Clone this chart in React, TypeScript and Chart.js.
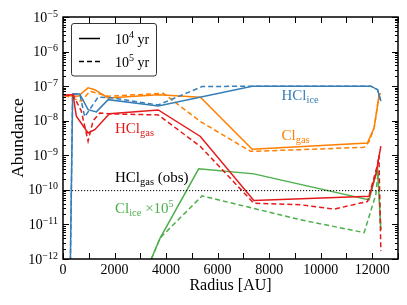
import React, { useEffect, useRef } from "react";
import { Chart, registerables } from "chart.js";
Chart.register(...registerables);

// ---- data (radius in AU, abundance) ----
const X_TICKS = [0, 2000, 4000, 6000, 8000, 10000, 12000];
const Y_EXPONENTS = [-12, -11, -10, -9, -8, -7, -6, -5];

const R_HCL_ICE_4 = [270, 374, 650, 973, 1296, 1751, 3696, 7342, 11946, 12206, 12335];
const V_HCL_ICE_4 = [1e-13, 5.95e-8, 5.95e-8, 2.09e-8, 1.8e-8, 4.07e-8, 2.68e-8, 1.0e-7, 1.0e-7, 7.9e-8, 3.7e-8];

const R_HCL_ICE_5 = [270, 374, 650, 844, 1362, 1868, 3696, 5397, 7342, 11946, 12206, 12335];
const V_HCL_ICE_5 = [1e-13, 5.95e-8, 5.9e-8, 1.3e-8, 4.8e-8, 4.6e-8, 2.86e-8, 9.7e-8, 1.0e-7, 1.0e-7, 7.9e-8, 3.7e-8];

const R_CL_GAS_4 = [50, 584, 973, 1233, 1751, 3696, 5331, 7342, 11817, 12074, 12268, 12335];
const V_CL_GAS_4 = [5.4e-8, 5.1e-8, 8.9e-8, 7.9e-8, 4.55e-8, 5.6e-8, 4.8e-8, 1.5e-9, 2.28e-9, 6.2e-9, 5.7e-8, 6.2e-8];

const R_CL_GAS_5 = [50, 712, 1039, 1751, 3891, 5331, 7276, 9222, 11685, 11880, 12074, 12268, 12335];
const V_CL_GAS_5 = [5.4e-8, 3.66e-8, 7.1e-8, 5.1e-8, 6.2e-8, 9.5e-9, 1.3e-9, 1.45e-9, 1.71e-9, 2.49e-9, 6.2e-9, 5.7e-8, 6.2e-8];

const R_HCL_GAS_4 = [50, 389, 518, 973, 1233, 1800, 3696, 5331, 7405, 11880, 12140, 12335];
const V_HCL_GAS_4 = [5.4e-8, 5.7e-8, 1.35e-8, 4.4e-9, 5.5e-9, 1.6e-8, 2.05e-8, 3.5e-9, 4.9e-11, 6.5e-11, 2.77e-10, 1.83e-9];

const R_HCL_GAS_5 = [50, 389, 712, 973, 1167, 1428, 1868, 3696, 5331, 7405, 9222, 10517, 11817, 12206, 12260, 12335];
const V_HCL_GAS_5 = [5.4e-8, 5.7e-8, 1.88e-8, 2.56e-9, 9.9e-9, 1.68e-8, 1.57e-8, 1.47e-8, 1.8e-9, 4.1e-11, 3.7e-11, 2.77e-11, 4.6e-11, 5.4e-10, 1.0e-9, 1.69e-12];

const R_CL_ICE_4 = [3300, 3774, 5265, 7405, 11880, 12206, 12335];
const V_CL_ICE_4 = [6e-13, 4.1e-12, 4.05e-10, 2.9e-10, 5.1e-11, 4.3e-10, 6.9e-12];

const R_CL_ICE_5 = [3300, 3774, 5397, 9222, 11685, 12140, 12229, 12335];
const V_CL_ICE_5 = [6e-13, 4.1e-12, 6.7e-11, 1.36e-11, 5.8e-12, 7.3e-11, 3.47e-10, 6.9e-12];

const R_OBS = [0, 13000];
const V_OBS = [9.5e-11, 9.5e-11];

const BLUE = "#377eb8";
const ORANGE = "#ff7f00";
const RED = "#e41a1c";
const GREEN = "#4daf4a";
const FONT = '"Liberation Serif", "DejaVu Serif", serif';

type Part = [string, number, number];

function drawRich(ctx: CanvasRenderingContext2D, x: number, y: number, parts: Part[], color: string, align: string = "left") {
  ctx.save();
  ctx.fillStyle = color;
  ctx.textBaseline = "alphabetic";
  ctx.textAlign = "left";
  let total = 0;
  const widths: number[] = [];
  for (const [t, s] of parts) {
    ctx.font = `${s}px ${FONT}`;
    const w = ctx.measureText(t).width;
    widths.push(w);
    total += w;
  }
  let cx = align === "right" ? x - total : align === "center" ? x - total / 2 : x;
  parts.forEach(([t, s, dy], i) => {
    ctx.font = `${s}px ${FONT}`;
    ctx.fillText(t, cx, y + dy);
    cx += widths[i];
  });
  ctx.restore();
}

const decor = {
  id: "decor",
  afterDatasetsDraw(chart: any) {
    const { ctx, chartArea: a, scales } = chart;
    const xs = scales.x;
    const ys = scales.y;
    ctx.save();
    ctx.strokeStyle = "#000";
    ctx.lineWidth = 1;
    ctx.beginPath();
    for (let r = 0; r <= 13000; r += 1000) {
      const px = Math.round(xs.getPixelForValue(r)) + 0.5;
      ctx.moveTo(px, a.bottom);
      ctx.lineTo(px, a.bottom - 6);
      ctx.moveTo(px, a.top);
      ctx.lineTo(px, a.top + 6);
    }
    for (let i = 0; i < Y_EXPONENTS.length; i++) {
      const e = Y_EXPONENTS[i];
      const py = Math.round(ys.getPixelForValue(Math.pow(10, e))) + 0.5;
      ctx.moveTo(a.left, py);
      ctx.lineTo(a.left + 6, py);
      ctx.moveTo(a.right, py);
      ctx.lineTo(a.right - 6, py);
      if (e < -5) {
        for (let m = 2; m <= 9; m++) {
          const pm = Math.round(ys.getPixelForValue(m * Math.pow(10, e))) + 0.5;
          ctx.moveTo(a.left, pm);
          ctx.lineTo(a.left + 3, pm);
          ctx.moveTo(a.right, pm);
          ctx.lineTo(a.right - 3, pm);
        }
      }
    }
    ctx.stroke();
    ctx.lineWidth = 1.5;
    ctx.strokeRect(a.left, a.top, a.right - a.left, a.bottom - a.top);
    ctx.restore();

    // tick labels
    for (const t of X_TICKS) {
      const px = xs.getPixelForValue(t);
      drawRich(ctx, px, a.bottom + 15, [[String(t), 14, 0]], "#000", "center");
    }
    for (const e of Y_EXPONENTS) {
      const py = ys.getPixelForValue(Math.pow(10, e));
      drawRich(ctx, a.left - 5, py + 4.5, [["10", 14, 0], ["\u2212" + String(-e), 10, -5]], "#000", "right");
    }

    // axis titles
    drawRich(ctx, (a.left + a.right) / 2, 290, [["Radius [AU]", 16, 0]], "#000", "center");
    ctx.save();
    ctx.translate(23, (a.top + a.bottom) / 2);
    ctx.rotate(-Math.PI / 2);
    drawRich(ctx, 0, 0, [["Abundance", 17.5, 0]], "#000", "center");
    ctx.restore();

    // annotations
    drawRich(ctx, 281.5, 100, [["HCl", 15, 0], ["ice", 10.5, 3]], BLUE);
    drawRich(ctx, 281.5, 140, [["Cl", 15, 0], ["gas", 10.5, 3]], ORANGE);
    drawRich(ctx, 115, 132.5, [["HCl", 15, 0], ["gas", 10.5, 3]], RED);
    drawRich(ctx, 115, 182, [["HCl", 15, 0], ["gas", 10.5, 3], [" (obs)", 15, 0]], "#000");
    drawRich(ctx, 115, 213, [["Cl", 15, 0], ["ice", 10.5, 3], [" \u00d710", 15, 0], ["5", 10, -6]], GREEN);

    // legend
    ctx.save();
    ctx.fillStyle = "#fff";
    ctx.strokeStyle = "#333";
    ctx.lineWidth = 1;
    ctx.beginPath();
    (ctx as any).roundRect(71.5, 23.5, 85, 52.5, 2.5);
    ctx.fill();
    ctx.stroke();
    ctx.strokeStyle = "#000";
    ctx.lineWidth = 1.5;
    ctx.beginPath();
    ctx.moveTo(79, 38.5);
    ctx.lineTo(100, 38.5);
    ctx.stroke();
    ctx.setLineDash([5, 3]);
    ctx.beginPath();
    ctx.moveTo(79, 61.5);
    ctx.lineTo(100, 61.5);
    ctx.stroke();
    ctx.restore();
    drawRich(ctx, 115, 43.5, [["10", 14, 0], ["4", 10, -5.5], [" yr", 14, 0]], "#000");
    drawRich(ctx, 115, 66.5, [["10", 14, 0], ["5", 10, -5.5], [" yr", 14, 0]], "#000");
  },
};

function pts(r: number[], v: number[]) {
  return r.map((x, i) => ({ x, y: v[i] }));
}

function ds(r: number[], v: number[], color: string, dashed: boolean, width = 1.5) {
  return {
    data: pts(r, v),
    borderColor: color,
    backgroundColor: color,
    borderWidth: width,
    borderDash: dashed ? [5, 3] : [],
    showLine: true,
    pointRadius: 0,
    tension: 0,
    fill: false,
  };
}

export default function App() {
  const ref = useRef<HTMLCanvasElement | null>(null);
  useEffect(() => {
    if (!ref.current) return;
    const obs = ds(R_OBS, V_OBS, "#000", false, 1);
    (obs as any).borderDash = [1.2, 1.8];
    const chart = new Chart(ref.current, {
      type: "scatter",
      data: {
        datasets: [
          obs as any,
          ds(R_HCL_GAS_4, V_HCL_GAS_4, RED, false),
          ds(R_HCL_GAS_5, V_HCL_GAS_5, RED, true),
          ds(R_CL_ICE_4, V_CL_ICE_4, GREEN, false),
          ds(R_CL_ICE_5, V_CL_ICE_5, GREEN, true),
          ds(R_HCL_ICE_4, V_HCL_ICE_4, BLUE, false),
          ds(R_HCL_ICE_5, V_HCL_ICE_5, BLUE, true),
          ds(R_CL_GAS_4, V_CL_GAS_4, ORANGE, false),
          ds(R_CL_GAS_5, V_CL_GAS_5, ORANGE, true),
        ],
      },
      options: {
        responsive: false,
        animation: false,
        devicePixelRatio: 1,
        layout: { padding: { left: 63, right: 9, top: 17, bottom: 46 } },
        plugins: { legend: { display: false }, tooltip: { enabled: false } },
        scales: {
          x: { type: "linear", min: 0, max: 13000, display: false },
          y: { type: "logarithmic", min: 1e-12, max: 1e-5, display: false },
        },
      },
      plugins: [decor],
    });
    return () => chart.destroy();
  }, []);
  return (
    <div style={{ position: "fixed", left: 0, top: 0, width: 407, height: 305, background: "#fff" }}>
      <canvas ref={ref} width={407} height={305} style={{ width: 407, height: 305 }} />
    </div>
  );
}
